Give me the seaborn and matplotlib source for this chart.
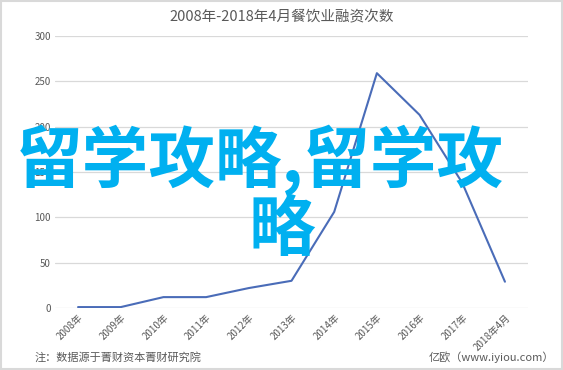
import matplotlib
matplotlib.use("Agg")
import matplotlib.pyplot as plt
import seaborn as sns
import pandas as pd

years = ["2008年", "2009年", "2010年", "2011年", "2012年", "2013年",
         "2014年", "2015年", "2016年", "2017年", "2018年4月"]
counts = [1, 1, 12, 12, 22, 30, 106, 259, 213, 138, 29]
yticks = [0, 50, 100, 150, 200, 250, 300]
title = "2008年-2018年4月餐饮业融资次数"
note = "注：数据源于菁财资本菁财研究院"
source = "亿欧（www.iyiou.com）"
watermark_1 = "留学攻略,留学攻"
watermark_2 = "略"

sns.set_theme(style="white")
plt.rcParams['font.family'] = ['Noto Sans CJK SC', 'DejaVu Sans']

df = pd.DataFrame({"x": range(len(years)), "y": counts})

fig = plt.figure(figsize=(5.63, 3.70), dpi=100)
ax = fig.add_axes([55/563, 1-308/370, (528-55)/563, (308-36)/370])
sns.lineplot(data=df, x="x", y="y", ax=ax, color="#4a6cb8", linewidth=1.5)

ax.set_xlim(-0.54, len(years) - 1 + 0.54)
ax.set_ylim(0, 300)
ax.set_yticks(yticks)
ax.set_yticklabels([str(v) for v in yticks], fontsize=7, color="#595959")
ax.set_xticks(range(len(years)))
ax.set_xticklabels(years, rotation=45, ha="right", rotation_mode="anchor",
                   fontsize=7, color="#595959")
ax.tick_params(axis="both", length=0, pad=3)
ax.grid(axis="y", color="#d9d9d9", linewidth=0.9)
ax.set_axisbelow(True)
for s in ax.spines.values():
    s.set_visible(False)
ax.set_xlabel("")
ax.set_ylabel("")

fig.text(0.5, 1-17/370, title, ha="center", va="center", fontsize=10.5, color="#595959")
fig.text(35/563, 1-357/370, note, ha="left", va="center", fontsize=8, color="#595959")
fig.text(554/563, 1-357/370, source, ha="right", va="center", fontsize=8, color="#595959")

wm = dict(fontsize=48, fontweight="bold", color="#00b0f0",
          family=['Noto Sans CJK SC', 'DejaVu Sans'], ha="center", va="center")
fig.text(260/563, 1-160/370, watermark_1, **wm)
fig.text(282/563, 1-231/370, watermark_2, **wm)

# light border
fig.patches.append(plt.Rectangle((0.002, 0.003), 0.996, 0.994, transform=fig.transFigure,
                                 fill=False, edgecolor="#d9d9d9", linewidth=1.5))

fig.savefig("out.png", dpi=100)
